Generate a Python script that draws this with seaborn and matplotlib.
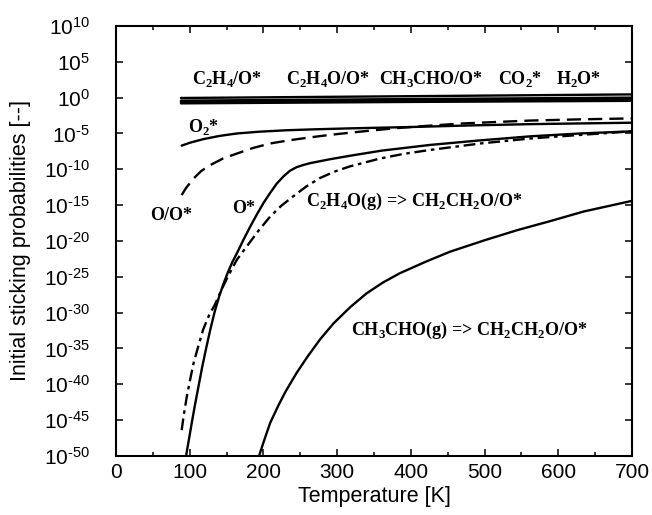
import numpy as np
import pandas as pd
import matplotlib
matplotlib.use("Agg")
import matplotlib.pyplot as plt
import seaborn as sns
from matplotlib.ticker import FixedLocator, FuncFormatter, MultipleLocator, NullLocator

# ---------------- data (log10 of sticking probability) ----------------
T_top = [88, 400, 700]
top_1 = [-0.05, 0.20, 0.45]
top_2 = [-0.42, -0.20, 0.00]
top_3 = [-0.55, -0.30, -0.15]
top_4 = [-0.68, -0.45, -0.30]
top_5 = [-0.80, -0.60, -0.45]

T_O2 = [89, 100, 118, 140, 164, 195, 232, 270, 313, 400, 480, 562, 630, 700]
O2_star = [-6.7, -6.3, -5.8, -5.35, -5.0, -4.75, -4.55, -4.42, -4.3, -4.1, -3.88, -3.7, -3.6, -3.5]

T_OO = [89, 95, 105, 116, 128, 145, 164, 185, 209, 235, 263, 290, 317, 350, 381, 420, 471, 520,
        562, 630, 700]
O_over_O = [-13.6, -12.6, -11.3, -10.2, -9.4, -8.5, -7.8, -7.05, -6.4, -5.95, -5.55, -5.2, -4.9,
            -4.55, -4.25, -3.95, -3.6, -3.38, -3.2, -3.03, -2.9]

T_O = [95, 99, 103, 107, 112, 117, 123, 128, 134, 140, 146, 152, 158, 164, 173, 182, 191, 200,
       209, 218, 227, 236, 245, 254, 263, 290, 318, 360, 426, 490, 562, 630, 700]
O_star = [-50, -47.6, -45.2, -42.9, -40.2, -37.5, -34.6, -32.3, -29.8, -27.7, -25.9, -24.3, -22.9,
          -21.7, -19.8, -18.0, -16.3, -14.7, -13.3, -12.0, -11.0, -10.2, -9.7, -9.4, -9.15, -8.6,
          -8.1, -7.4, -6.6, -6.0, -5.4, -5.0, -4.7]

T_C2H4O = [89, 92, 96, 100, 105, 111, 118, 126, 134, 143, 152, 164, 177, 193, 209, 224, 240, 258,
           277, 297, 317, 358, 390, 426, 494, 562, 630, 700]
C2H4O_g = [-46.4, -44.2, -41.7, -39.6, -37.1, -34.9, -32.4, -30.4, -28.9, -26.8, -24.9, -22.6,
           -20.8, -18.6, -16.6, -15.1, -13.8, -12.4, -11.2, -10.3, -9.6, -8.5, -7.85, -7.3, -6.4,
           -5.7, -5.2, -4.7]

T_CH3CHO = [194, 200, 209, 220, 230, 245, 260, 277, 295, 318, 340, 362, 385, 420, 453, 500, 544,
            590, 634, 700]
CH3CHO_g = [-50, -48.1, -45.4, -43.0, -41.0, -38.4, -36.1, -33.7, -31.5, -29.2, -27.3, -25.8,
            -24.5, -22.9, -21.5, -19.9, -18.5, -17.2, -15.9, -14.4]

# labels: (text, T, log10 baseline)
top_labels = [r"C$_\mathbf{2}$H$_\mathbf{4}$/O*", r"C$_\mathbf{2}$H$_\mathbf{4}$O/O*",
              r"CH$_\mathbf{3}$CHO/O*", r"CO$_\mathbf{2}$*", r"H$_\mathbf{2}$O*"]
top_label_T = [151, 287, 427, 548, 628]
top_label_y = 1.84
other_labels = [r"O$_\mathbf{2}$*", "O/O*", "O*",
                r"C$_\mathbf{2}$H$_\mathbf{4}$O(g) => CH$_\mathbf{2}$CH$_\mathbf{2}$O/O*",
                r"CH$_\mathbf{3}$CHO(g) => CH$_\mathbf{2}$CH$_\mathbf{2}$O/O*"]
other_label_T = [119, 75, 173, 404, 479]
other_label_y = [-4.8, -17.1, -16.1, -15.1, -33.1]

x_ticks = [0, 100, 200, 300, 400, 500, 600, 700]
y_tick_exp = [-50, -45, -40, -35, -30, -25, -20, -15, -10, -5, 0, 5, 10]

# ---------------- style ----------------
sns.set_style("ticks")
plt.rcParams.update({
    "font.family": ["Liberation Sans", "DejaVu Sans"],
    "mathtext.fontset": "custom",
    "mathtext.rm": "Liberation Sans",
    "mathtext.it": "Liberation Sans:italic",
    "mathtext.bf": "Liberation Serif:bold",
    "axes.linewidth": 1.5,
    "text.color": "black",
    "axes.labelcolor": "black",
    "xtick.color": "black",
    "ytick.color": "black",
    "xtick.labelcolor": "black",
    "ytick.labelcolor": "black",
})

fig = plt.figure(figsize=(6.52, 5.15), dpi=100)
ax = fig.add_axes([0.178, 0.1146, 0.7914, 0.835])

def frame(T, v):
    return pd.DataFrame({"T": T, "p": 10.0 ** np.asarray(v, dtype=float)})

lw = 1.7
for vals in [top_1, top_2, top_3, top_4, top_5]:
    sns.lineplot(data=frame(T_top, vals), x="T", y="p", ax=ax, color="black", lw=lw,
                 errorbar=None)
sns.lineplot(data=frame(T_O2, O2_star), x="T", y="p", ax=ax, color="black", lw=lw, errorbar=None)
sns.lineplot(data=frame(T_OO, O_over_O), x="T", y="p", ax=ax, color="black", lw=lw,
             errorbar=None, ls=(0, (6, 3)))
sns.lineplot(data=frame(T_O, O_star), x="T", y="p", ax=ax, color="black", lw=lw, errorbar=None)
sns.lineplot(data=frame(T_C2H4O, C2H4O_g), x="T", y="p", ax=ax, color="black", lw=lw,
             errorbar=None, ls=(0, (5, 2, 1.5, 2)))
sns.lineplot(data=frame(T_CH3CHO, CH3CHO_g), x="T", y="p", ax=ax, color="black", lw=lw,
             errorbar=None)

ax.set_yscale("log")
ax.set_xlim(0, 700)
ax.set_ylim(1e-50, 1e10)
ax.xaxis.set_major_locator(FixedLocator(x_ticks))
ax.xaxis.set_minor_locator(MultipleLocator(50))
ax.yaxis.set_major_locator(FixedLocator([10.0 ** e for e in y_tick_exp]))
ax.yaxis.set_minor_locator(NullLocator())


def yfmt(v, p):
    e = int(round(np.log10(v)))
    if e < 0:
        return r"$10^{\text{-}%d}$" % (-e)
    return r"$10^{%d}$" % e


ax.yaxis.set_major_formatter(FuncFormatter(yfmt))

ax.tick_params(which="both", direction="in", top=True, right=True, width=1.1, colors="black")
ax.tick_params(which="major", length=5)
ax.tick_params(which="minor", length=3)
ax.tick_params(axis="x", which="major", labelsize=15, pad=5)
ax.tick_params(axis="y", which="major", labelsize=15, pad=19)

ax.set_xlabel("Temperature [K]", fontsize=15.5, color="black")
ax.set_ylabel("Initial sticking probabilities [--]", fontsize=15.5, color="black")
ax.xaxis.set_label_coords(0.5, -0.07)
ax.yaxis.set_label_coords(-0.165, 0.5)

lab_font = dict(family="Liberation Serif", weight="bold", fontsize=13, color="black",
                ha="center", va="baseline")
for txt, t in zip(top_labels, top_label_T):
    ax.text(t, 10.0 ** top_label_y, txt, **lab_font)
for txt, t, y in zip(other_labels, other_label_T, other_label_y):
    ax.text(t, 10.0 ** y, txt, **lab_font)

for s in ax.spines.values():
    s.set_color("black")

fig.savefig("out.png", dpi=100)
